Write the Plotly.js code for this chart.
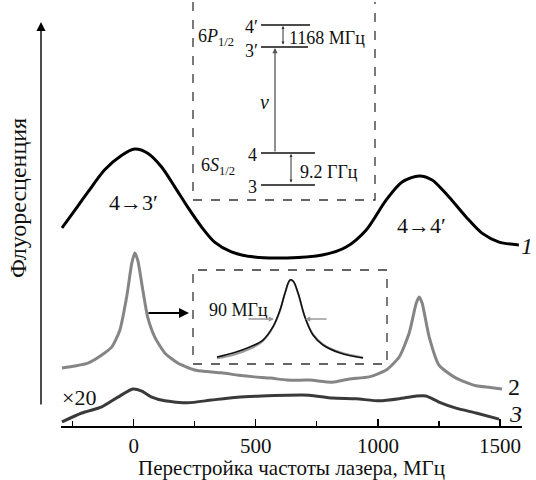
<!DOCTYPE html>
<html>
<head>
<meta charset="utf-8">
<script src="https://cdn.plot.ly/plotly-3.0.1.min.js"></script>
<style>html,body{margin:0;padding:0;background:#fff;}#chart{width:536px;height:480px;}</style>
</head>
<body>
<div id="chart"></div>
<script>
// ---------- data ----------
// curve 1: broad Doppler-type spectrum (arb. units)
const freq1 = [-294,-241,-188,-119,-49,4,57,114,168,221,278,331,400,494,629,772,870,952,1034,1099,1169,1222,1291,1361,1426,1496,1577];
const fluor1 = [48.8,53.2,57.6,63.1,66.7,68.2,67.2,63.8,58.9,53.9,49.0,45.3,42.9,41.6,41.4,42.1,44.1,48.3,55.7,60.1,61.6,60.6,56.4,51.5,47.5,45.3,44.6];
// curve 2: sub-Doppler narrow peaks
const freq2 = [-294,-241,-188,-131,-90,-57,-29,-8,4,16,37,57,86,127,180,249,300,360,430,494,560,629,719,813,883,964,1034,1087,1128,1157,1169,1181,1210,1250,1320,1402,1460,1508];
const fluor2 = [14.3,14.8,15.5,17.5,19.5,23.6,31.8,40.1,42.6,40.9,33.5,26.8,21.9,18.0,15.5,13.8,13.4,13.1,12.5,12.1,11.8,11.3,11.3,10.8,11.6,12.1,13.8,17.0,22.9,30.3,31.8,30.3,21.9,15.0,11.8,9.9,9.5,9.1];
// curve 3: x20
const freq3 = [-294,-213,-131,-65,-4,33,74,127,221,319,425,523,629,719,813,911,1005,1087,1157,1197,1250,1320,1402,1496];
const fluor3 = [1.0,3.2,4.7,7.1,9.1,8.6,7.1,6.2,5.7,6.4,7.1,7.4,7.6,7.6,6.9,6.7,6.2,6.7,7.4,7.4,5.9,4.4,3.2,1.7];
// inset: zoom of first narrow peak (detuning, MHz; normalized)
const insetFreq = [-235,-183,-129,-87,-55,-32,-16,0,10,26,48,74,106,161,235];
const insetData = [0.074,0.117,0.181,0.255,0.394,0.574,0.755,0.894,0.883,0.755,0.500,0.309,0.202,0.117,0.064];
const insetFit  = [0.060,0.095,0.160,0.245,0.390,0.570,0.755,0.890,0.880,0.750,0.500,0.315,0.210,0.125,0.070];
const xTickVals = [0,500,1000,1500];

// ---------- helpers: pixel -> paper ----------
const L = 61, R = 14, T = 20, B = 54, W = 536, H = 480;
const PW = W - L - R, PH = H - T - B;
const px = x => (x - L) / PW;
const py = y => (H - B - y) / PH;
const FONT = 'Liberation Serif';

const traces = [
  {x: freq1, y: fluor1, mode: 'lines', line: {color: '#000', width: 3, shape: 'spline', smoothing: 0.8}, hoverinfo: 'skip'},
  {x: freq2, y: fluor2, mode: 'lines', line: {color: '#858585', width: 3, shape: 'spline', smoothing: 0.6}, hoverinfo: 'skip'},
  {x: freq3, y: fluor3, mode: 'lines', line: {color: '#3a3a3a', width: 3, shape: 'spline', smoothing: 0.6}, hoverinfo: 'skip'},
  {x: insetFreq, y: insetFit, xaxis: 'x2', yaxis: 'y2', mode: 'lines', line: {color: '#9a9a9a', width: 2, shape: 'spline'}, hoverinfo: 'skip'},
  {x: insetFreq, y: insetData, xaxis: 'x2', yaxis: 'y2', mode: 'lines', line: {color: '#111', width: 1.6, shape: 'spline'}, hoverinfo: 'skip'}
];

const line = (x0, y0, x1, y1, color, width, dash) => ({
  type: 'line', xref: 'paper', yref: 'paper', x0: px(x0), y0: py(y0), x1: px(x1), y1: py(y1),
  line: {color: color || '#111', width: width || 1.5, dash: dash || 'solid'}
});

const shapes = [
  {type: 'path', xref: 'paper', yref: 'paper',
   path: `M ${px(193)} ${py(2)} L ${px(193)} ${py(200)} L ${px(375)} ${py(200)} L ${px(375)} ${py(2)}`,
   line: {color: '#333', width: 1.3, dash: 'dash'}},
  line(261, 25, 310, 25), line(261, 47, 308, 47),
  line(261, 153, 315, 153), line(261, 185, 315, 185),
  {type: 'rect', xref: 'paper', yref: 'paper', x0: px(193), x1: px(387), y0: py(364), y1: py(270),
   line: {color: '#333', width: 1.3, dash: 'dash'}}
];

const txt = (text, x, y, size, opts) => Object.assign({
  text, x: px(x), y: py(y), xref: 'paper', yref: 'paper', showarrow: false,
  xanchor: 'center', yanchor: 'middle', font: {family: FONT, size: size, color: '#111'}
}, opts || {});
const arrow = (hx, hy, tx, ty, color, width, head, size, side) => ({
  text: '', x: px(hx), y: py(hy), xref: 'paper', yref: 'paper', showarrow: true,
  ax: tx - hx, ay: ty - hy, axref: 'pixel', ayref: 'pixel',
  arrowhead: head, arrowsize: size, arrowwidth: width, arrowcolor: color, arrowside: side || 'end', standoff: 0, startstandoff: 0
});

const annotations = [
  arrow(41, 22, 41, 406, '#000', 1.4, 2, 1.3),
  txt('Флуоресценция', 18, 198, 24, {textangle: -90}),
  txt('6<i>P</i><sub>1/2</sub>', 196, 37, 18, {xanchor: 'left'}),
  txt('4′', 251, 27, 18), txt('3′', 251, 51, 18),
  txt('6<i>S</i><sub>1/2</sub>', 199, 167, 18, {xanchor: 'left'}),
  txt('4', 252, 155, 18), txt('3', 252, 187, 18),
  txt('<i>ν</i>', 264, 102, 20),
  txt('1168 МГц', 287, 38, 18, {xanchor: 'left'}),
  txt('9.2 ГГц', 298, 172, 18, {xanchor: 'left'}),
  arrow(275, 48, 275, 153, '#555', 1.3, 2, 0.8),
  arrow(283, 26, 283, 46, '#333', 1, 2, 0.6, 'end+start'),
  arrow(291, 154, 291, 184, '#333', 1, 2, 0.6, 'end+start'),
  txt('4→3′', 133, 203, 22),
  txt('4→4′', 421, 225, 22),
  txt('<i>1</i>', 535, 246, 24, {xanchor: 'right'}),
  txt('2', 514, 387, 24),
  txt('<i>3</i>', 515, 414, 24),
  txt('×20', 79, 397, 22),
  arrow(189, 313, 147, 313, '#000', 2, 2, 1),
  txt('90 МГц', 238, 310, 18),
  arrow(274, 319, 247, 319, '#999', 1.5, 2, 0.7),
  arrow(305, 319, 328, 319, '#999', 1.5, 2, 0.7)
];

const layout = {
  width: W, height: H, margin: {l: L, r: R, t: T, b: B},
  paper_bgcolor: '#fff', plot_bgcolor: 'rgba(0,0,0,0)', showlegend: false,
  xaxis: {
    range: [-298, 1590], showline: true, linecolor: '#000', linewidth: 1.5,
    ticks: 'inside', ticklen: 7, tickwidth: 1.2, tickcolor: '#000',
    tickmode: 'array', tickvals: xTickVals, ticktext: xTickVals.map(String),
    minor: {dtick: 250, tick0: 0, ticks: 'inside', ticklen: 5, tickwidth: 1.1, tickcolor: '#000', showgrid: false},
    showgrid: false, zeroline: false, fixedrange: true, automargin: false,
    tickfont: {family: FONT, size: 21, color: '#111'},
    title: {text: 'Перестройка частоты лазера, МГц', font: {family: FONT, size: 21, color: '#111'}, standoff: 5}
  },
  yaxis: {range: [0, 100], visible: false, fixedrange: true},
  xaxis2: {domain: [px(193), px(387)], range: [-312, 312], anchor: 'y2', visible: false, fixedrange: true},
  yaxis2: {domain: [py(364), py(270)], range: [0, 1], anchor: 'x2', visible: false, fixedrange: true},
  shapes, annotations
};

Plotly.newPlot('chart', traces, layout, {staticPlot: true, displayModeBar: false});
</script>
</body>
</html>
